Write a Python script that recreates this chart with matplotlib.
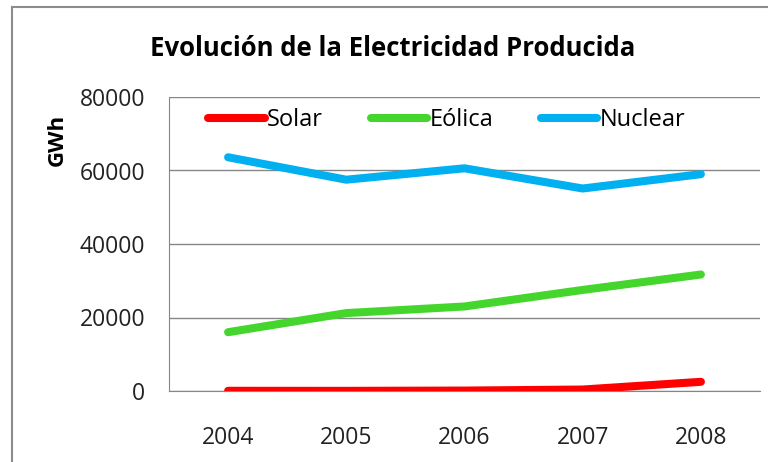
import matplotlib.pyplot as plt
from matplotlib.lines import Line2D

years = ["2004", "2005", "2006", "2007", "2008"]
solar = [56, 41, 119, 400, 2500]
eolica = [16000, 21200, 23000, 27500, 31700]
nuclear = [63600, 57500, 60600, 55100, 59000]

series_names = ["Solar", "Eólica", "Nuclear"]
series_colors = ["#FF0000", "#44D62C", "#00B0F0"]

plt.rcParams["font.family"] = ["Open Sans", "DejaVu Sans"]

fig = plt.figure(figsize=(7.68, 4.62), dpi=100)
ax = fig.add_axes([169 / 768, 71 / 462, 591 / 768, 294 / 462])

x = range(len(years))
for vals, name, color in zip([solar, eolica, nuclear], series_names, series_colors):
    ax.plot(x, vals, color=color, lw=5.8, label=name, solid_capstyle="round",
            solid_joinstyle="round", zorder=3)

ax.set_xlim(-0.5, len(years) - 0.5)
ax.set_ylim(0, 80000)
ax.set_yticks(range(0, 80001, 20000))
ax.set_xticks(list(x))
ax.set_xticklabels(years)
ax.grid(axis="y", color="#868686", lw=1)
ax.set_axisbelow(True)
for s in ["top", "right"]:
    ax.spines[s].set_visible(False)
ax.spines["left"].set_color("#868686")
ax.spines["bottom"].set_color("#868686")
ax.tick_params(axis="both", length=0, labelsize=16.5, colors="#222222")
ax.tick_params(axis="y", pad=17)
ax.tick_params(axis="x", pad=25)

ax.set_ylabel("GWh", fontsize=16, fontweight="bold")
ax.yaxis.set_label_coords(-0.172, 0.854)

fig.text(393 / 768, 1 - 48 / 462, "Evolución de la Electricidad Producida",
         ha="center", va="center", fontsize=18.5, fontweight="bold")

ax.legend(loc="upper center", bbox_to_anchor=(0.47, 1.035), ncol=3, frameon=False,
          fontsize=17, handlelength=2.4, handletextpad=0.1, columnspacing=2.0)

# outer chart border
fig.add_artist(Line2D([12 / 768, 12 / 768], [0, 1 - 7 / 462], color="#8c8c8c", lw=1.5,
                      transform=fig.transFigure))
fig.add_artist(Line2D([12 / 768, 1], [1 - 7 / 462, 1 - 7 / 462], color="#8c8c8c", lw=1.5,
                      transform=fig.transFigure))

fig.savefig("out.png", dpi=100)
